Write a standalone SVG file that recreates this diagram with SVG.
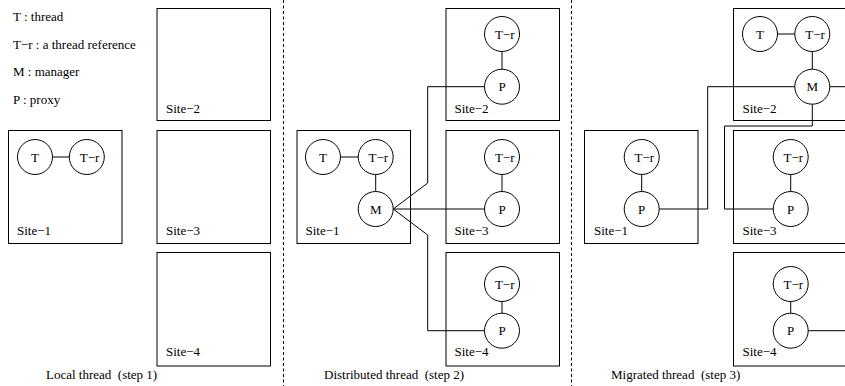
<svg xmlns="http://www.w3.org/2000/svg" width="845" height="386" viewBox="0 0 845 386">
<style>
text{font-family:"Liberation Serif","Times New Roman",serif;font-size:13px;fill:#000;white-space:pre}
.c{text-anchor:middle}
.box{fill:none;stroke:#000;stroke-width:1}
.nd{fill:#fff;stroke:#000;stroke-width:1}
.ln{fill:none;stroke:#000;stroke-width:1}
.div{stroke:#000;stroke-width:1;stroke-dasharray:3,2.5}
</style>
<rect width="845" height="386" fill="#fff"/>
<g id="dividers">
<line class="div" x1="283.5" y1="0" x2="283.5" y2="386"/>
<line class="div" x1="571.5" y1="0" x2="571.5" y2="386"/>
</g>
<g id="legend">
<text x="13" y="20.5">T : thread</text>
<text x="13" y="48.5">T&#8722;r : a thread reference</text>
<text x="13" y="76">M : manager</text>
<text x="13" y="103.5">P : proxy</text>
</g>
<g id="connectors">
<line class="ln" x1="52.5" y1="157" x2="69.3" y2="157"/>
<line class="ln" x1="340.5" y1="157" x2="358.2" y2="157"/>
<line class="ln" x1="375.7" y1="174.5" x2="375.7" y2="191.5"/>
<line class="ln" x1="502" y1="51.5" x2="502" y2="69.2"/>
<line class="ln" x1="502" y1="174.5" x2="502" y2="191.5"/>
<line class="ln" x1="502" y1="301.5" x2="502" y2="313.2"/>
<polyline class="ln" points="393.2,209 427.7,183 427.7,86.7 484.5,86.7"/>
<line class="ln" x1="393.2" y1="209" x2="484.5" y2="209"/>
<polyline class="ln" points="393.2,209 427.7,235 427.7,330.7 484.5,330.7"/>
<line class="ln" x1="777.5" y1="34" x2="794.8" y2="34"/>
<line class="ln" x1="812.3" y1="51.5" x2="812.3" y2="69.2"/>
<line class="ln" x1="641.7" y1="174.5" x2="641.7" y2="191.5"/>
<line class="ln" x1="790.7" y1="174.5" x2="790.7" y2="191.5"/>
<line class="ln" x1="790.7" y1="301.5" x2="790.7" y2="313.2"/>
<polyline class="ln" points="794.8,86.7 707.7,86.7 707.7,209 659.2,209"/>
<polyline class="ln" points="812.3,104.2 812.3,126 724.5,126 724.5,209 773.2,209"/>
<line class="ln" x1="829.8" y1="86.7" x2="846" y2="86.7"/>
<line class="ln" x1="808.2" y1="330.7" x2="846" y2="330.7"/>
</g>
<g id="p1-site1">
<rect class="box" x="8.5" y="130.5" width="113.5" height="113"/>
<text x="17" y="234.5">Site&#8722;1</text>
</g>
<g id="p1-t"><circle class="nd" cx="35" cy="157" r="17.5"/><text class="c" x="35" y="161.5">T</text></g>
<g id="p1-tr"><circle class="nd" cx="86.8" cy="157" r="17.5"/><text class="c" x="89.5" y="161.5">T&#8722;r</text></g>
<g id="p1-site2"><rect class="box" x="157" y="8.5" width="113.5" height="112"/><text x="166" y="112.5">Site&#8722;2</text></g>
<g id="p1-site3"><rect class="box" x="157" y="130.5" width="113.5" height="113"/><text x="166" y="234.5">Site&#8722;3</text></g>
<g id="p1-site4"><rect class="box" x="157" y="252.5" width="113.5" height="113.5"/><text x="166" y="356">Site&#8722;4</text></g>
<g id="cap1"><text x="46" y="379">Local thread  (step 1)</text></g>

<g id="p2-site1"><rect class="box" x="297" y="130.5" width="113.5" height="113"/><text x="305.5" y="234.5">Site&#8722;1</text></g>
<g id="p2-t"><circle class="nd" cx="323" cy="157" r="17.5"/><text class="c" x="323" y="161.5">T</text></g>
<g id="p2-tr"><circle class="nd" cx="375.7" cy="157" r="17.5"/><text class="c" x="378.4" y="161.5">T&#8722;r</text></g>
<g id="p2-m"><circle class="nd" cx="375.7" cy="209" r="17.5"/><text class="c" x="375.7" y="213.5">M</text></g>
<g id="p2-site2"><rect class="box" x="446" y="8.5" width="113.5" height="112"/><text x="454.5" y="112.5">Site&#8722;2</text></g>
<g id="p2-s2tr"><circle class="nd" cx="502" cy="34" r="17.5"/><text class="c" x="504.7" y="38.5">T&#8722;r</text></g>
<g id="p2-s2p"><circle class="nd" cx="502" cy="86.7" r="17.5"/><text class="c" x="502" y="91.2">P</text></g>
<g id="p2-site3"><rect class="box" x="446" y="130.5" width="113.5" height="113"/><text x="454.5" y="234.5">Site&#8722;3</text></g>
<g id="p2-s3tr"><circle class="nd" cx="502" cy="157" r="17.5"/><text class="c" x="504.7" y="161.5">T&#8722;r</text></g>
<g id="p2-s3p"><circle class="nd" cx="502" cy="209" r="17.5"/><text class="c" x="502" y="213.5">P</text></g>
<g id="p2-site4"><rect class="box" x="446" y="252.5" width="113.5" height="113.5"/><text x="454.5" y="356">Site&#8722;4</text></g>
<g id="p2-s4tr"><circle class="nd" cx="502" cy="284" r="17.5"/><text class="c" x="504.7" y="288.5">T&#8722;r</text></g>
<g id="p2-s4p"><circle class="nd" cx="502" cy="330.7" r="17.5"/><text class="c" x="502" y="335.2">P</text></g>
<g id="cap2"><text x="324" y="379">Distributed thread  (step 2)</text></g>

<g id="p3-site1"><rect class="box" x="584.5" y="130.5" width="113.5" height="113"/><text x="594" y="234.5">Site&#8722;1</text></g>
<g id="p3-s1tr"><circle class="nd" cx="641.7" cy="157" r="17.5"/><text class="c" x="644.4" y="161.5">T&#8722;r</text></g>
<g id="p3-s1p"><circle class="nd" cx="641.7" cy="209" r="17.5"/><text class="c" x="641.7" y="213.5">P</text></g>
<g id="p3-site2"><rect class="box" x="733.5" y="8.5" width="113.5" height="112"/><text x="742.5" y="112.5">Site&#8722;2</text></g>
<g id="p3-t"><circle class="nd" cx="760" cy="34" r="17.5"/><text class="c" x="760" y="38.5">T</text></g>
<g id="p3-tr"><circle class="nd" cx="812.3" cy="34" r="17.5"/><text class="c" x="815" y="38.5">T&#8722;r</text></g>
<g id="p3-m"><circle class="nd" cx="812.3" cy="86.7" r="17.5"/><text class="c" x="812.3" y="91.2">M</text></g>
<g id="p3-site3"><rect class="box" x="733.5" y="130.5" width="113.5" height="113"/><text x="742.5" y="234.5">Site&#8722;3</text></g>
<g id="p3-s3tr"><circle class="nd" cx="790.7" cy="157" r="17.5"/><text class="c" x="793.4" y="161.5">T&#8722;r</text></g>
<g id="p3-s3p"><circle class="nd" cx="790.7" cy="209" r="17.5"/><text class="c" x="790.7" y="213.5">P</text></g>
<g id="p3-site4"><rect class="box" x="733.5" y="252.5" width="113.5" height="113.5"/><text x="742.5" y="356">Site&#8722;4</text></g>
<g id="p3-s4tr"><circle class="nd" cx="790.7" cy="284" r="17.5"/><text class="c" x="793.4" y="288.5">T&#8722;r</text></g>
<g id="p3-s4p"><circle class="nd" cx="790.7" cy="330.7" r="17.5"/><text class="c" x="790.7" y="335.2">P</text></g>
<g id="cap3"><text x="611" y="379">Migrated thread  (step 3)</text></g>
</svg>
